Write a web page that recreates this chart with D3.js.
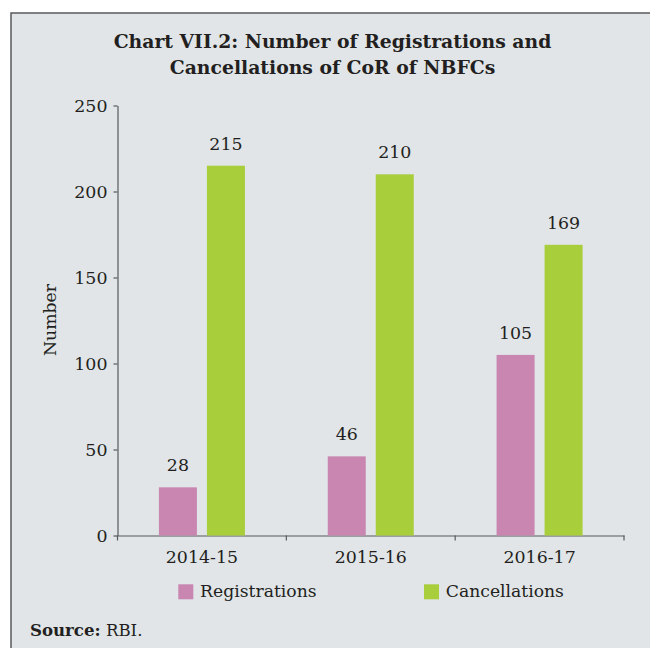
<!DOCTYPE html>
<html>
<head>
<meta charset="utf-8">
<script src="https://cdn.jsdelivr.net/npm/d3@7/dist/d3.min.js"></script>
<style>
  html, body { margin: 0; padding: 0; background: #ffffff; }
  svg { display: block; }
  text { font-family: "DejaVu Serif", serif; fill: #231f20; }
</style>
</head>
<body>
<svg id="chart" width="650" height="648"></svg>
<script>
const categories = ["2014-15", "2015-16", "2016-17"];
const seriesNames = ["Registrations", "Cancellations"];
const registrations = [28, 46, 105];
const cancellations = [215, 210, 169];
const yTicks = [0, 50, 100, 150, 200, 250];
const titleLines = ["Chart VII.2: Number of Registrations and", "Cancellations of CoR of NBFCs"];
const colors = { Registrations: "#c886b1", Cancellations: "#a8ce3b" };

const svg = d3.select("#chart");

// frame
svg.append("rect")
  .attr("x", 11).attr("y", 13)
  .attr("width", 700).attr("height", 700)
  .attr("fill", "#e1e5e8")
  .attr("stroke", "#58595b").attr("stroke-width", 1.5);

// title
svg.append("text")
  .attr("text-anchor", "middle")
  .style("font-weight", "bold").style("font-size", "18.8px")
  .selectAll("tspan").data(titleLines).join("tspan")
  .attr("x", 332.5)
  .attr("y", (d, i) => 48.3 + i * 25.7)
  .text(d => d);

const y = d3.scaleLinear().domain([0, 250]).range([535.5, 105.5]);
const x = d3.scaleBand().domain(categories).range([117.5, 624]).paddingInner(0).paddingOuter(0);
const xs = d3.scaleBand().domain(seriesNames).range([0, x.bandwidth()])
  .paddingInner(10 / 48).paddingOuter(0.8625);

const axisColor = "#58595b";

// y axis
const yAxis = svg.append("g")
  .attr("transform", "translate(117.5,0)")
  .call(d3.axisLeft(y).tickValues(yTicks).tickSize(4).tickSizeOuter(0).tickPadding(6));
yAxis.select(".domain").attr("stroke", axisColor).attr("stroke-width", 1.2);
yAxis.selectAll(".tick line").attr("stroke", axisColor).attr("stroke-width", 1.2);
yAxis.selectAll(".tick text")
  .style("font-family", "DejaVu Serif").style("font-size", "17.4px").attr("fill", "#231f20");

// x axis
const xAxis = svg.append("g")
  .attr("transform", "translate(0,535.5)")
  .call(d3.axisBottom(x).tickSize(0).tickSizeOuter(0));
xAxis.select(".domain").attr("stroke", axisColor).attr("stroke-width", 1.2);
xAxis.selectAll(".tick text")
  .style("font-family", "DejaVu Serif").style("font-size", "17.4px").attr("fill", "#231f20")
  .attr("y", 27.2).attr("dy", 0);
const boundaries = categories.map(c => x(c)).concat([x(categories[categories.length - 1]) + x.bandwidth()]);
xAxis.selectAll(".bound").data(boundaries).join("line")
  .attr("class", "bound")
  .attr("x1", d => d).attr("x2", d => d)
  .attr("y1", 0).attr("y2", 5)
  .attr("stroke", axisColor).attr("stroke-width", 1.2);

// y label
svg.append("text")
  .attr("transform", "translate(56,320) rotate(-90)")
  .attr("text-anchor", "middle")
  .style("font-size", "17.3px")
  .text("Number");

// bars
const rows = categories.map((c, i) => ({ cat: c, values: [
  { name: "Registrations", value: registrations[i] },
  { name: "Cancellations", value: cancellations[i] }
]}));

const groups = svg.append("g").selectAll("g").data(rows).join("g")
  .attr("transform", d => `translate(${x(d.cat)},0)`);

groups.selectAll("rect").data(d => d.values).join("rect")
  .attr("x", d => xs(d.name))
  .attr("width", xs.bandwidth())
  .attr("y", d => y(d.value))
  .attr("height", d => y(0) - y(d.value))
  .attr("fill", d => colors[d.name]);

groups.selectAll("text").data(d => d.values).join("text")
  .attr("x", d => xs(d.name) + xs.bandwidth() / 2)
  .attr("y", d => y(d.value) - 16)
  .attr("text-anchor", "middle")
  .style("font-size", "17.4px")
  .text(d => d.value);

// legend
const legendX = { Registrations: 178.3, Cancellations: 424 };
const legend = svg.append("g").selectAll("g").data(seriesNames).join("g")
  .attr("transform", d => `translate(${legendX[d]},584.3)`);
legend.append("rect")
  .attr("width", 15).attr("height", 15)
  .attr("fill", d => colors[d]);
legend.append("text")
  .attr("x", 21.8).attr("y", 12.4)
  .style("font-size", "17.2px")
  .text(d => d);

// source
const src = svg.append("text").attr("x", 30).attr("y", 636).style("font-size", "16.6px");
src.append("tspan").style("font-weight", "bold").text("Source:");
src.append("tspan").text(" RBI.");
</script>
</body>
</html>
